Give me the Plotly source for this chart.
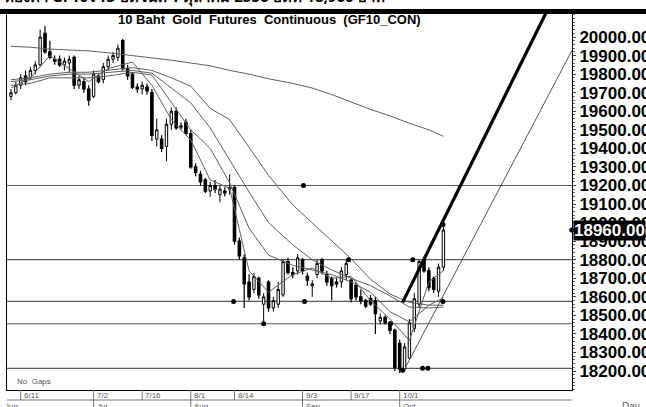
import plotly.graph_objects as go

# ---------------- data ----------------
opens = [19680,19700,19740,19790,19780,19820,19850,20020,19920,19880,
         19880,19850,19860,19890,19740,19760,19720,19680,19790,19770,
         19840,19880,19890,19980,19830,19800,19730,19720,19730,19700,
         19450,19450,19410,19530,19600,19520,19540,19480,19300,19260,
         19230,19170,19200,19150,19170,19180,19190,18900,18810,18680,
         18640,18700,18560,18680,18540,18560,18610,18790,18730,18740,
         18800,18710,18660,18720,18800,18720,18700,18680,18680,18720,
         18690,18660,18600,18580,18590,18580,18470,18490,18460,18420,
         18350,18210,18270,18430,18560,18800,18740,18700,18630,18760]
highs = [19720,19760,19800,19820,19840,19870,20040,20060,19980,19900,
         19900,19890,19900,19900,19790,19780,19740,19820,19800,19860,
         19900,19920,19960,19990,19850,19810,19750,19760,19750,19720,
         19560,19470,19560,19620,19620,19540,19560,19500,19320,19280,
         19240,19220,19230,19200,19190,19260,19200,18920,18830,18720,
         18730,18710,18620,18690,18600,18680,18800,18810,18760,18830,
         18810,18730,18690,18800,18810,18740,18710,18700,18760,18800,
         18700,18680,18640,18590,18610,18600,18510,18500,18470,18430,
         18370,18350,18480,18620,18800,18810,18760,18710,18780,18990]
lows = [19660,19690,19720,19740,19770,19800,19840,19910,19880,19850,
        19840,19820,19810,19720,19720,19700,19630,19670,19750,19750,
        19820,19860,19870,19820,19770,19720,19700,19690,19690,19440,
        19410,19380,19330,19500,19500,19500,19470,19290,19250,19200,
        19160,19140,19160,19110,19140,19150,18880,18800,18540,18580,
        18620,18590,18465,18520,18520,18540,18600,18720,18700,18720,
        18720,18660,18600,18700,18720,18660,18580,18650,18650,18690,
        18570,18580,18560,18540,18550,18400,18450,18450,18400,18200,
        18190,18200,18260,18410,18540,18730,18630,18620,18600,18740]
closes = [19700,19740,19780,19760,19820,19850,20000,19920,19890,19870,
          19850,19870,19880,19740,19770,19720,19660,19800,19760,19840,
          19880,19900,19940,19830,19790,19730,19720,19740,19710,19470,
          19500,19400,19530,19600,19510,19515,19480,19300,19270,19220,
          19170,19200,19180,19180,19160,19190,18900,18820,18670,18600,
          18710,18610,18600,18540,18580,18640,18790,18730,18720,18810,
          18740,18690,18670,18780,18740,18680,18660,18670,18740,18780,
          18590,18600,18580,18550,18560,18510,18490,18460,18420,18220,
          18210,18330,18460,18590,18790,18740,18650,18640,18760,18960]

# moving averages (day index, value)
ma_days = [0,4,8,12,16,20,25,29,33,37,41,45,49,53,58,62,66,70,74,78,82,86,89]
ma_slow = [19950,19945,19935,19930,19925,19915,19900,19885,19875,19860,19845,19820,
           19800,19775,19750,19725,19690,19650,19610,19575,19535,19500,19465]
ma_b = [19770,19780,19800,19810,19810,19820,19835,19820,19780,19735,19615,19555,
        19405,19255,19095,19000,18905,18805,18695,18615,18570,18555,18555]
ma_c = [19760,19770,19790,19800,19800,19810,19820,19805,19725,19645,19510,19335,
        19165,19000,18880,18800,18745,18700,18660,18605,18545,18540,18545]
ma_d = [19740,19750,19780,19780,19780,19790,19810,19795,19650,19500,19400,19215,
        18970,18825,18770,18745,18720,18680,18625,18520,18465,18555,18595]
ma_e = [19725,19780,19900,19830,19760,19830,19865,19740,19555,19445,19230,19185,
        18740,18625,18720,18755,18700,18710,18580,18480,18365,18680,18740]

h_levels = [19200, 18800, 18575, 18455, 18215]

mark_days = [60.2, 45.8, 60.4, 52, 69.5, 82.7, 88.9, 88.9, 80.6, 78.1, 84.7, 85.8, 115.4]
mark_vals = [19200, 18575, 18575, 18455, 18800, 18800, 18990, 18575, 18205, 18455, 18215, 18215, 18960]

thick_days = [80.6, 112]
thick_vals = [18570, 20230]
thin_days = [80.6, 115.5]
thin_vals = [18190, 19930]

price_ticks = [18200,18300,18400,18500,18600,18700,18800,18900,19000,19100,
               19200,19300,19400,19500,19600,19700,19800,19900,20000]
date_days = [2, 17, 27, 37, 46, 60, 70, 80]
date_labels = ["6/11", "7/2", "7/16", "8/1", "8/14", "9/3", "9/17", "10/1"]
month_days = [17, 37, 60, 80]
month_labels = ["Jul", "Aug", "Sep", "Oct"]
last_price = 18960

x = list(range(len(closes)))
X_RANGE = [-0.82, 115.46]
Y_RANGE = [18098, 20124]

fig = go.Figure()

for lv in h_levels:
    fig.add_shape(type="line", xref="paper", x0=0, x1=1, yref="y", y0=lv, y1=lv,
                  line=dict(color="#5a5a5a", width=1.2), layer="below")

ma_style = dict(color="#606060", width=1)
for s in [ma_slow, ma_b, ma_c, ma_d, ma_e]:
    fig.add_trace(go.Scatter(x=ma_days, y=s, mode="lines", line=ma_style,
                             hoverinfo="skip", showlegend=False))

fig.add_trace(go.Candlestick(
    x=x, open=opens, high=highs, low=lows, close=closes,
    increasing=dict(line=dict(color="black", width=1), fillcolor="white"),
    decreasing=dict(line=dict(color="black", width=1.2), fillcolor="black"),
    whiskerwidth=0, showlegend=False))

fig.add_trace(go.Scatter(x=thick_days, y=thick_vals, mode="lines",
                         line=dict(color="black", width=3.2), showlegend=False))
fig.add_trace(go.Scatter(x=thin_days, y=thin_vals, mode="lines",
                         line=dict(color="#555555", width=1), showlegend=False))
fig.add_trace(go.Scatter(x=mark_days, y=mark_vals, mode="markers",
                         marker=dict(color="black", size=5, symbol="circle"),
                         cliponaxis=False, showlegend=False))

# date row below the plot
row1 = -10 / 376
row2 = -20 / 376
fig.add_shape(type="line", xref="paper", x0=0, x1=1, yref="paper", y0=row1, y1=row1,
              line=dict(color="#777", width=1))
for d, lab in zip(date_days, date_labels):
    fig.add_shape(type="line", xref="x", x0=d, x1=d, yref="paper", y0=0, y1=row1,
                  line=dict(color="#777", width=1))
    fig.add_annotation(x=d, xref="x", y=row1 / 2, yref="paper", text=lab,
                       xanchor="left", yanchor="middle", xshift=1, showarrow=False,
                       font=dict(family="Liberation Sans", size=8, color="#555"))
for d, lab in zip(month_days, month_labels):
    fig.add_shape(type="line", xref="x", x0=d, x1=d, yref="paper", y0=row1, y1=row2,
                  line=dict(color="#777", width=1))
    fig.add_annotation(x=d, xref="x", y=row1, yref="paper", text=lab,
                       xanchor="left", yanchor="top", xshift=1, showarrow=False,
                       font=dict(family="Liberation Sans", size=8, color="#555"))
fig.add_annotation(x=0, xref="paper", y=row1, yref="paper", text="Jun",
                   xanchor="left", yanchor="top", xshift=-4, showarrow=False,
                   font=dict(family="Liberation Sans", size=8, color="#555"))
fig.add_annotation(x=0, xref="paper", y=2 / 376, yref="paper", text="No  Gaps",
                   xanchor="left", yanchor="bottom", xshift=8, showarrow=False,
                   font=dict(family="Liberation Sans", size=8, color="#555"))
fig.add_annotation(x=1, xref="paper", y=row1 + 1 / 376, yref="paper", text="Day",
                   xanchor="left", yanchor="top", xshift=48, showarrow=False,
                   font=dict(family="Liberation Sans", size=10, color="#555"))

# top bar and titles
fig.add_shape(type="rect", xref="paper", x0=-0.02, x1=1.2, yref="paper",
              y0=1.0, y1=1.0 + 5 / 376, fillcolor="black", line=dict(width=0))
fig.add_annotation(x=0.465, xref="paper", y=1 - 5 / 376, yref="paper",
                   text="10 Baht  Gold  Futures  Continuous  (GF10_CON)",
                   xanchor="center", yanchor="middle", showarrow=False,
                   font=dict(family="Liberation Sans", size=13, color="black", weight="bold"))
fig.add_annotation(x=0, xref="paper", y=1 + 5 / 376, yref="paper",
                   text="ทองคำ GF10V13 ปิดวันที่ 1 ตุลาคม 2556 ปิดที่ 18,960 บาท",
                   xanchor="left", yanchor="bottom", xshift=-5, showarrow=False,
                   font=dict(family="Noto Sans", size=15, color="black", weight="bold"))

# last price box
fig.add_annotation(x=1, xref="paper", y=last_price, yref="y", text="%.2f" % last_price,
                   xanchor="left", yanchor="middle", xshift=1, showarrow=False,
                   bgcolor="black", borderpad=0,
                   font=dict(family="Liberation Sans", size=17, color="white", weight="bold"))

fig.update_layout(
    width=646, height=407,
    margin=dict(l=7, r=74, t=14, b=17, autoexpand=False),
    paper_bgcolor="white", plot_bgcolor="white",
    xaxis=dict(range=X_RANGE, showgrid=False, zeroline=False, showticklabels=False,
               automargin=False,
               ticks="", showline=True, linecolor="black", linewidth=1, mirror=True,
               rangeslider=dict(visible=False)),
    yaxis=dict(range=Y_RANGE, side="right", showgrid=False, zeroline=False,
               automargin=False,
               tickvals=price_ticks, tickformat=".2f", ticks="outside", ticklen=3,
               tickcolor="#444", showline=True, linecolor="black", linewidth=1, mirror=True,
               minor=dict(ticks="outside", ticklen=2, dtick=20, tickcolor="#666"),
               tickfont=dict(family="Liberation Sans", size=17, color="black", weight="bold")),
    showlegend=False,
)

fig.write_html("out.html", config={"displayModeBar": False},
               post_script="document.body.style.margin='0';")
